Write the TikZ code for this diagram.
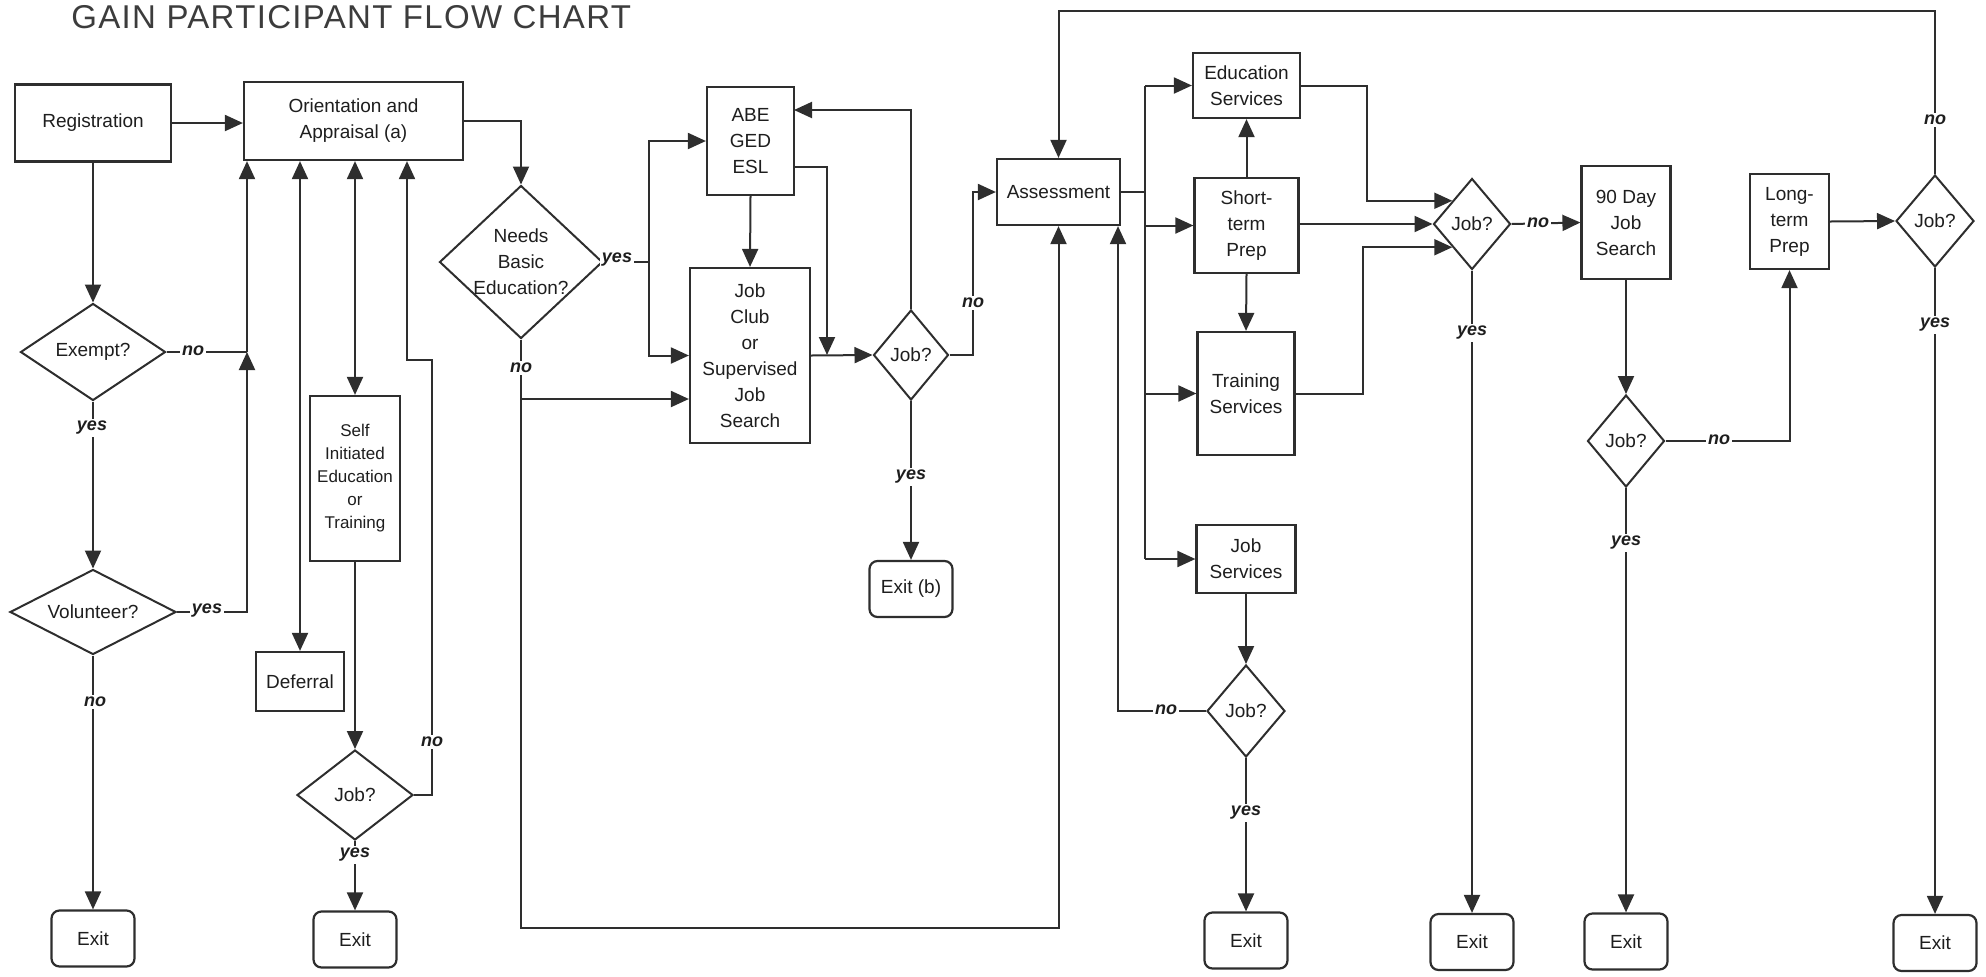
\documentclass[tikz,border=0pt]{standalone}
\usepackage{fontspec}
\setmainfont{Liberation Sans}
\usetikzlibrary{arrows.meta,shapes.geometric}
\definecolor{lineC}{HTML}{2E2E2E}
\definecolor{textC}{HTML}{1E1E1E}
\definecolor{titleC}{HTML}{3C3C3C}
\tikzset{
  box/.style={draw=lineC, line width=1.1pt, fill=white, align=center, inner sep=2pt, text=textC, font=\fontsize{9.5}{13}\selectfont},
  exitbox/.style={box, rounded corners=4pt, minimum width=41.5pt, minimum height=28pt},
  decision/.style={diamond, draw=lineC, line width=1pt, fill=white, inner sep=0pt, align=center, text=textC, font=\fontsize{9.5}{13}\selectfont},
  ln/.style={draw=lineC, line width=1pt},
  arr/.style={ln, -{Triangle[length=9pt,width=8pt]}},
  arr2/.style={ln, {Triangle[length=9pt,width=8pt]}-{Triangle[length=9pt,width=8pt]}},
  lbl/.style={fill=white, inner sep=1pt, text=textC, font=\fontsize{9}{10}\selectfont\bfseries\itshape},
}
\begin{document}
\begin{tikzpicture}[x=0.5pt,y=0.5pt,yscale=-1]
\useasboundingbox (0,0) rectangle (1986,976);

% Text Node
\node[anchor=base west, inner sep=0pt, text=titleC, font=\fontsize{16.5}{20}\selectfont\addfontfeature{LetterSpace=4}] (title) at (71,28) {GAIN PARTICIPANT FLOW CHART};

%Shape: Rectangle
\node[box, minimum width=78pt, minimum height=38.5pt] (reg) at (93,123) {Registration};
\node[box, minimum width=109.5pt, minimum height=39pt] (orient) at (353.5,121) {Orientation and\\Appraisal (a)};
\node[box, minimum width=45pt, minimum height=82.5pt, font=\fontsize{8.5}{11.5}\selectfont] (self) at (355,478.5) {Self\\Initiated\\Education\\or\\Training};
\node[box, minimum width=44pt, minimum height=29.5pt] (deferral) at (300,681.5) {Deferral};
\node[box, minimum width=43.5pt, minimum height=54pt] (abe) at (750.5,141) {ABE\\GED\\ESL};
\node[box, minimum width=60pt, minimum height=87.5pt] (jobclub) at (750,355.5) {Job\\Club\\or\\Supervised\\Job\\Search};
\node[box, minimum width=61.5pt, minimum height=33pt] (assess) at (1058.5,192) {Assessment};
\node[box, minimum width=53.5pt, minimum height=32.5pt] (edu) at (1246.5,85.5) {Education\\Services};
\node[box, minimum width=52pt, minimum height=47.5pt] (short) at (1246.5,225.5) {Short-\\term\\Prep};
\node[box, minimum width=48.5pt, minimum height=61.5pt] (train) at (1246,393.5) {Training\\Services};
\node[box, minimum width=49.5pt, minimum height=34pt] (jobserv) at (1246,559) {Job\\Services};
\node[box, minimum width=44.5pt, minimum height=56.5pt] (day90) at (1626,222.5) {90 Day\\Job\\Search};
\node[box, minimum width=39.5pt, minimum height=47.5pt] (longterm) at (1789.5,221.5) {Long-\\term\\Prep};

%Shape: Diamond
\node[decision, aspect=1.5, minimum width=72.5pt, minimum height=48.5pt] (exempt) at (93,352) {Exempt?};
\node[decision, aspect=2, minimum width=83pt, minimum height=42.5pt] (volunteer) at (93,612) {Volunteer?};
\node[decision, aspect=1.3, minimum width=58pt, minimum height=45pt] (jobA) at (355,795) {Job?};
\node[decision, aspect=1.06, inner sep=-6pt, minimum width=81.5pt, minimum height=76.5pt] (needs) at (521,262) {Needs\\Basic\\Education?};
\node[decision, aspect=0.83, minimum width=37.5pt, minimum height=45pt] (jobB) at (911,355) {Job?};
\node[decision, aspect=0.85, minimum width=38.5pt, minimum height=45.5pt] (jobC) at (1472,224) {Job?};
\node[decision, aspect=0.85, minimum width=38.5pt, minimum height=46pt] (jobD) at (1626,441) {Job?};
\node[decision, aspect=0.85, minimum width=39pt, minimum height=46pt] (jobE) at (1935,221) {Job?};
\node[decision, aspect=0.85, minimum width=39pt, minimum height=46pt] (jobF) at (1246,711) {Job?};

%Shape: Rounded Rectangle
\node[exitbox] (exitA) at (93,938.5) {Exit};
\node[exitbox] (exitB) at (355,939.5) {Exit};
\node[exitbox] (exitb) at (911,589) {Exit (b)};
\node[exitbox] (exitF) at (1246,940.5) {Exit};
\node[exitbox] (exitC) at (1472,942) {Exit};
\node[exitbox] (exitD) at (1626,941.5) {Exit};
\node[exitbox] (exitE) at (1935,943) {Exit};

% Corner points
\coordinate (jA) at (247,352);
\coordinate (jAn) at (432,360);
\coordinate (jAm) at (407,360);
\coordinate (yesj) at (649,262);
\coordinate (nj) at (0,399);
\coordinate (bot) at (0,928);
\coordinate (eslout) at (794,167);
\coordinate (esljoin) at (827,355);
\coordinate (abein) at (794,110);
\coordinate (nojB) at (973,355);
\coordinate (tr) at (1145,0);
\coordinate (cx1) at (1367,0);
\coordinate (cx2) at (1363,0);
\coordinate (cx3) at (1118,0);
\coordinate (topln) at (0,11);

%Straight Lines
\draw[arr] (reg.south) -- (exempt.north);
\draw[arr] (reg.east) -- (reg.east -| orient.west);
\draw[ln] (exempt.east) -- (jA);
\draw[arr] (exempt.south) -- (volunteer.north);
\draw[arr] (volunteer.east) -| (jA);
\draw[arr] (jA) -- (jA |- orient.south);
\draw[arr] (volunteer.south) -- (exitA.north);
\draw[arr2] (deferral.north |- orient.south) -- (deferral.north);
\draw[arr2] (self.north |- orient.south) -- (self.north);
\draw[arr] (self.south) -- (jobA.north);
\draw[arr] (jobA.east) -| (jAn) -- (jAm) -- (jAm |- orient.south);
\draw[arr] (jobA.south) -- (exitB.north);

\draw[arr] (orient.east) -| (needs.north);
\draw[ln] (needs.east) -- (yesj);
\draw[arr] (yesj) |- (abe.west);
\draw[arr] (yesj) |- (jobclub.west);
\draw[arr] (needs.south |- nj) -- (jobclub.west |- nj);
\draw[arr] (needs.south) -- (needs.south |- bot) -| (assess.south);
\draw[arr] (abe.south) -- (jobclub.north);
\draw[arr] (eslout) -| (esljoin);
\draw[arr] (jobclub.east) -- (jobB.west);
\draw[arr] (jobB.north) |- (abein);
\draw[arr] (jobB.east) -- (nojB) |- (assess.west);
\draw[arr] (jobB.south) -- (exitb.north);

\draw[ln] (assess.east) -- (assess.east -| tr);
\draw[ln] (edu.west -| tr) -- (jobserv.west -| tr);
\draw[arr] (edu.west -| tr) -- (edu.west);
\draw[arr] (short.west -| tr) -- (short.west);
\draw[arr] (train.west -| tr) -- (train.west);
\draw[arr] (jobserv.west -| tr) -- (jobserv.west);
\draw[arr] (short.north) -- (edu.south);
\draw[arr] (short.south) -- (train.north);
\draw[arr] (edu.east) -| (cx1 |- jobC.north west) -- (jobC.north west);
\draw[arr] (short.east |- jobC.west) -- (jobC.west);
\draw[arr] (train.east) -| (cx2 |- jobC.south west) -- (jobC.south west);
\draw[arr] (jobserv.south) -- (jobF.north);
\draw[arr] (jobF.west) -| (cx3 |- assess.south);
\draw[arr] (jobF.south) -- (exitF.north);

\draw[arr] (jobC.east) -- (day90.west);
\draw[arr] (jobC.south) -- (exitC.north);
\draw[arr] (day90.south) -- (jobD.north);
\draw[arr] (jobD.east) -| (longterm.south);
\draw[arr] (jobD.south) -- (exitD.north);
\draw[arr] (longterm.east) -- (jobE.west);
\draw[arr] (jobE.north) |- (topln -| assess.north) -- (assess.north);
\draw[arr] (jobE.south) -- (exitE.north);

% Text Node
\node[lbl] (l-exno) at (193,351) {no};
\node[lbl] (l-exyes) at (92,428) {yes};
\node[lbl] (l-volyes) at (207,611) {yes};
\node[lbl] (l-volno) at (95,702) {no};
\node[lbl] (l-jAno) at (432,742) {no};
\node[lbl] (l-jAyes) at (355,855) {yes};
\node[lbl] (l-ndyes) at (617,260) {yes};
\node[lbl] (l-ndno) at (521,368) {no};
\node[lbl] (l-jBno) at (973,303) {no};
\node[lbl] (l-jByes) at (911,477) {yes};
\node[lbl] (l-jCno) at (1538,223) {no};
\node[lbl] (l-jCyes) at (1472,333) {yes};
\node[lbl] (l-jDno) at (1719,440) {no};
\node[lbl] (l-jDyes) at (1626,543) {yes};
\node[lbl] (l-jEno) at (1935,120) {no};
\node[lbl] (l-jEyes) at (1935,325) {yes};
\node[lbl] (l-jFno) at (1166,710) {no};
\node[lbl] (l-jFyes) at (1246,813) {yes};

\end{tikzpicture}
\end{document}
